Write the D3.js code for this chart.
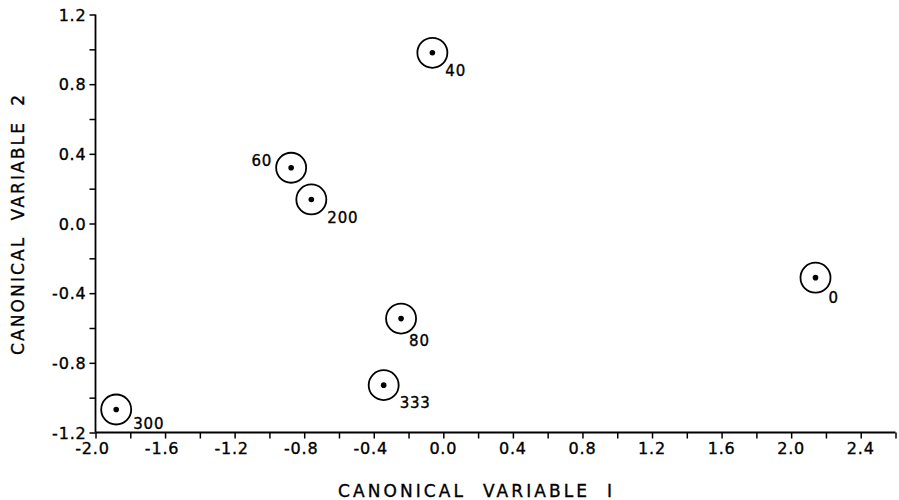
<!DOCTYPE html>
<html>
<head>
<meta charset="utf-8">
<script src="https://cdn.jsdelivr.net/npm/d3@7"></script>
<style>
html,body{margin:0;padding:0;background:#fff;}
svg{display:block;}
svg text{font-family:"DejaVu Sans",Verdana,sans-serif;fill:#000;stroke:#000;stroke-width:0.35px;}
</style>
</head>
<body>
<svg id="chart" width="899" height="500"></svg>
<script>
// Data
const labels = ["0", "40", "60", "80", "200", "300", "333"];
const var1 = [2.14, -0.063, -0.875, -0.243, -0.759, -1.881, -0.343];
const var2 = [-0.311, 0.98, 0.32, -0.546, 0.138, -1.068, -0.928];
// label offsets (relative to point), anchor
const labelDx = [13, 13, -19, 8, 16, 17, 16];
const labelDy = [25, 23, -2, 27, 24, 19, 23];
const labelAnchor = ["start","start","end","start","start","start","start"];
const xTicks = [-2.0, -1.6, -1.2, -0.8, -0.4, 0.0, 0.4, 0.8, 1.2, 1.6, 2.0, 2.4];
const yTicks = [-1.2, -0.8, -0.4, 0.0, 0.4, 0.8, 1.2];
const xTitle = "CANONICAL  VARIABLE  I";
const yTitle = "CANONICAL  VARIABLE  2";

const svg = d3.select("#chart");
const x = d3.scaleLinear().domain([-2.0, 2.6]).range([95.5, 895.5]);
const y = d3.scaleLinear().domain([-1.2, 1.2]).range([432.5, 14.5]);

const fmt = v => (v < 0 ? "-" : "") + Math.abs(v).toFixed(1);

// X axis
const xMinor = d3.range(-2.0, 2.61, 0.2);
const gx = svg.append("g").attr("transform", `translate(0,${y(-1.2)})`);
gx.call(d3.axisBottom(x).tickValues(xMinor).tickSize(6).tickFormat(""))
  .call(g => g.select(".domain").attr("d", `M${x(-2.0)},0H${x(2.6)}`).attr("stroke-width", 1.8))
  .call(g => g.selectAll(".tick line").attr("stroke-width", 1.5));
gx.selectAll(".xlab").data(xTicks).enter().append("text")
  .attr("x", d => x(d) - (d < 0 ? 3 : 0)).attr("y", 21)
  .attr("text-anchor", "middle").attr("font-size", 16).attr("letter-spacing", 0.8)
  .text(fmt);

// Y axis
const yMinor = d3.range(-1.2, 1.21, 0.2);
const gy = svg.append("g").attr("transform", `translate(${x(-2.0)},0)`);
gy.call(d3.axisLeft(y).tickValues(yMinor).tickSize(6).tickFormat(""))
  .call(g => g.select(".domain").attr("d", `M0,${y(1.2)}V${y(-1.2)}`).attr("stroke-width", 1.8))
  .call(g => g.selectAll(".tick line").attr("stroke-width", 1.5));
gy.selectAll(".ylab").data(yTicks).enter().append("text")
  .attr("x", -9).attr("y", d => y(d) + 6)
  .attr("text-anchor", "end").attr("font-size", 16).attr("letter-spacing", 0.8)
  .text(fmt);

// Titles
svg.append("text").attr("x", 475).attr("y", 497)
  .attr("text-anchor", "middle").attr("font-size", 17)
  .attr("textLength", 274).attr("lengthAdjust", "spacing")
  .style("white-space", "pre").text(xTitle);
svg.append("text").attr("transform", "translate(24,225) rotate(-90)")
  .attr("text-anchor", "middle").attr("font-size", 17)
  .attr("textLength", 260).attr("lengthAdjust", "spacing")
  .style("white-space", "pre").text(yTitle);

// Points
const pts = labels.map((l, i) => ({l, x: var1[i], y: var2[i], dx: labelDx[i], dy: labelDy[i], a: labelAnchor[i]}));
const gp = svg.append("g").selectAll("g").data(pts).enter().append("g")
  .attr("transform", d => `translate(${x(d.x)},${y(d.y)})`);
gp.append("circle").attr("r", 15).attr("fill", "none").attr("stroke", "#000").attr("stroke-width", 1.8);
gp.append("circle").attr("r", 2.8).attr("fill", "#000");
gp.append("text").attr("x", d => d.dx).attr("y", d => d.dy)
  .attr("text-anchor", d => d.a).attr("font-size", 15).attr("letter-spacing", 0.8)
  .text(d => d.l);
</script>
</body>
</html>
